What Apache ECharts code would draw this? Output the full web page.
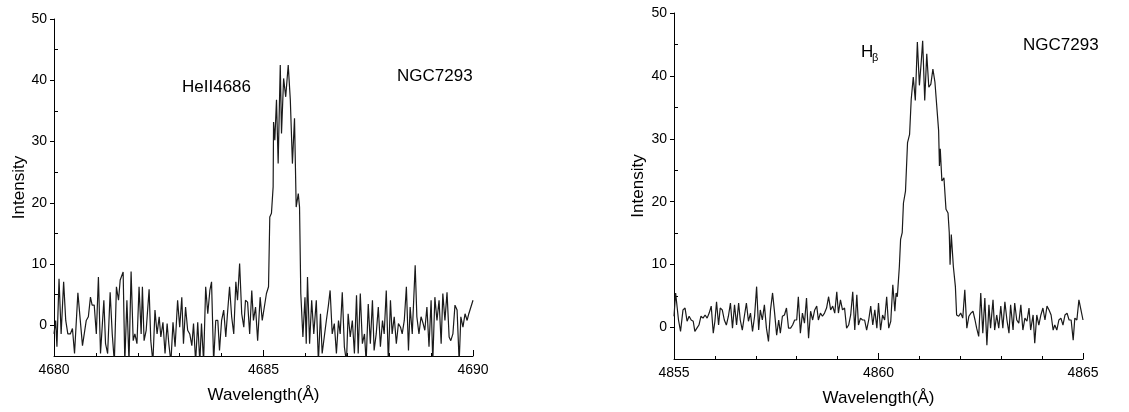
<!DOCTYPE html>
<html>
<head>
<meta charset="UTF-8">
<title></title>
<script src="https://cdn.jsdelivr.net/npm/echarts@6/dist/echarts.min.js"></script>
</head>
<body style="margin:0;background:#fff">
<div id="container" style="width:1129px;height:412px;"></div>
<script>
// HeII 4686 line, [wavelength, intensity]
var heII = [[4680.00,-1.4],[4680.04,0.8],[4680.07,-3.5],[4680.12,7.6],[4680.17,-1.4],[4680.23,7.1],[4680.28,0.8],[4680.33,-1.4],[4680.39,-1.4],[4680.44,-0.5],
[4680.49,-4.6],[4680.57,5.3],[4680.68,-3.3],[4680.77,0.8],[4680.82,1.4],[4680.87,4.6],[4680.91,3.3],[4680.96,3.3],[4681.01,-1.4],[4681.06,7.9],
[4681.11,-4.6],[4681.19,4.1],[4681.23,-3.0],[4681.28,-4.6],[4681.34,5.4],[4681.39,-1.4],[4681.44,-6],[4681.49,6.3],[4681.54,4.1],[4681.58,7.4],
[4681.65,8.7],[4681.69,-6],[4681.74,4.1],[4681.79,-6],[4681.84,8.8],[4681.89,-2.5],[4681.93,-1.4],[4681.98,-3.0],[4682.03,6.3],[4682.08,-1.4],
[4682.11,6.3],[4682.15,-2.5],[4682.20,-0.8],[4682.27,5.9],[4682.31,-2.5],[4682.36,-6],[4682.41,2.5],[4682.46,-1.4],[4682.51,1.4],[4682.55,-1.9],
[4682.60,0.5],[4682.65,-4.6],[4682.70,0.3],[4682.74,-3.0],[4682.79,-6],[4682.84,0.5],[4682.89,-3.5],[4682.95,4.1],[4683.00,-0.3],[4683.05,4.6],
[4683.09,-3.0],[4683.14,3.0],[4683.19,-0.8],[4683.24,-1.4],[4683.29,-3.3],[4683.33,0.3],[4683.38,-6],[4683.43,0.5],[4683.48,-6],[4683.52,0.3],
[4683.57,-6],[4683.62,6.3],[4683.67,1.9],[4683.72,5.7],[4683.76,7.1],[4683.81,-6],[4683.86,0.8],[4683.91,0.8],[4683.95,-4.1],[4684.00,0.8],
[4684.05,2.5],[4684.10,-1.9],[4684.14,1.9],[4684.19,6.3],[4684.24,1.4],[4684.29,-1.4],[4684.34,7.1],[4684.38,4.1],[4684.43,10.1],[4684.48,1.9],
[4684.53,-0.3],[4684.57,4.1],[4684.62,3.8],[4684.67,-1.4],[4684.72,5.7],[4684.76,0.8],[4684.81,3.0],[4684.86,-2.5],[4684.92,4.6],[4684.97,0.8],
[4685.02,3.0],[4685.07,5.2],[4685.12,6.3],[4685.15,17.7],[4685.19,18.3],[4685.23,22.6],[4685.24,33.2],[4685.27,30.2],[4685.31,36.8],[4685.35,26.4],
[4685.40,42.5],[4685.43,31.3],[4685.48,40.3],[4685.53,37.3],[4685.59,42.5],[4685.64,36.8],[4685.69,26.4],[4685.74,33.8],[4685.78,19.3],[4685.83,21.5],
[4685.86,19.3],[4685.89,5.2],[4685.94,-1.9],[4685.99,4.6],[4686.02,-3.0],[4686.05,7.9],[4686.10,-3.0],[4686.15,4.1],[4686.20,-1.4],[4686.26,4.1],
[4686.31,-6],[4686.36,1.9],[4686.40,-4.6],[4686.45,-1.9],[4686.50,0.8],[4686.55,3.3],[4686.59,5.7],[4686.64,-1.4],[4686.69,0.3],[4686.74,-4.6],
[4686.79,0.8],[4686.83,-1.4],[4686.88,5.4],[4686.93,-3.5],[4686.98,-6],[4687.02,1.9],[4687.07,-1.9],[4687.12,0.8],[4687.17,-4.6],[4687.22,4.9],
[4687.26,-4.6],[4687.31,5.2],[4687.36,-3.0],[4687.41,-1.4],[4687.45,-6],[4687.50,3.5],[4687.55,-3.0],[4687.60,4.1],[4687.64,-4.1],[4687.69,-1.4],
[4687.74,3.0],[4687.79,-3.5],[4687.84,0.8],[4687.88,-1.4],[4687.93,5.7],[4687.98,-6],[4688.03,4.1],[4688.07,-1.4],[4688.12,1.4],[4688.17,-3.0],
[4688.22,0.3],[4688.27,-0.3],[4688.31,-1.4],[4688.36,0.8],[4688.41,6.3],[4688.46,-4.1],[4688.50,3.0],[4688.55,-1.4],[4688.62,9.8],[4688.66,1.4],
[4688.71,-1.4],[4688.76,1.4],[4688.81,0.3],[4688.85,-0.8],[4688.90,3.0],[4688.95,-3.5],[4689.00,4.1],[4689.04,-6],[4689.09,4.6],[4689.14,0.8],
[4689.19,4.1],[4689.24,-3.0],[4689.28,5.2],[4689.33,0.8],[4689.38,5.4],[4689.43,-1.9],[4689.47,-2.5],[4689.52,-1.4],[4689.57,3.3],[4689.62,2.5],
[4689.67,-6],[4689.71,1.4],[4689.76,-0.3],[4689.81,1.9],[4689.86,0.8],[4689.90,1.9],[4689.95,3.0],[4690.00,4.1]];

// H-beta line, [wavelength, intensity]
var hBeta = [[4855.00,1.8],[4855.04,5.5],[4855.07,5.2],[4855.11,1.2],[4855.16,-0.6],[4855.22,2.8],[4855.27,3.1],[4855.32,1.0],[4855.37,1.8],[4855.42,1.2],
[4855.47,1.0],[4855.51,-0.6],[4855.56,-0.1],[4855.61,0.4],[4855.66,1.8],[4855.71,1.5],[4855.76,2.0],[4855.81,1.5],[4855.86,2.3],[4855.91,3.4],
[4855.96,-0.9],[4856.00,1.0],[4856.04,4.1],[4856.09,0.4],[4856.13,3.1],[4856.18,2.8],[4856.23,1.2],[4856.28,0.4],[4856.33,1.8],[4856.38,3.9],
[4856.43,-0.1],[4856.48,3.6],[4856.53,0.4],[4856.58,3.9],[4856.62,1.2],[4856.67,-0.4],[4856.72,1.8],[4856.77,3.9],[4856.82,1.0],[4856.87,2.3],
[4856.92,-0.6],[4856.97,1.8],[4857.02,6.5],[4857.07,-0.4],[4857.11,2.8],[4857.16,1.2],[4857.21,3.6],[4857.26,-0.1],[4857.31,-2.2],[4857.36,2.8],
[4857.41,5.5],[4857.46,2.3],[4857.51,-1.2],[4857.56,1.2],[4857.60,-0.9],[4857.65,1.8],[4857.70,2.0],[4857.75,3.1],[4857.80,-0.1],[4857.85,-0.1],
[4857.90,0.4],[4857.95,1.2],[4858.00,1.2],[4858.04,4.9],[4858.09,-0.9],[4858.14,2.3],[4858.19,0.7],[4858.24,4.7],[4858.29,-1.7],[4858.34,2.6],
[4858.39,1.2],[4858.44,2.8],[4858.49,3.4],[4858.53,1.2],[4858.58,2.3],[4858.63,1.8],[4858.68,2.3],[4858.73,3.1],[4858.78,4.9],[4858.83,2.8],
[4858.88,3.4],[4858.93,2.3],[4858.98,5.7],[4859.02,2.3],[4859.07,4.4],[4859.12,2.8],[4859.17,3.1],[4859.22,-0.1],[4859.27,0.4],[4859.32,2.0],
[4859.37,5.7],[4859.42,-0.4],[4859.47,5.2],[4859.51,0.4],[4859.56,1.5],[4859.61,1.2],[4859.66,1.2],[4859.71,-0.4],[4859.76,1.2],[4859.81,3.4],
[4859.86,0.4],[4859.91,2.8],[4859.96,-0.1],[4860.00,3.9],[4860.05,-0.4],[4860.10,2.0],[4860.15,1.2],[4860.20,4.9],[4860.25,-0.1],[4860.30,1.0],
[4860.35,6.8],[4860.40,2.6],[4860.43,5.5],[4860.46,4.9],[4860.51,9.7],[4860.54,14.0],[4860.58,15.1],[4860.61,19.8],[4860.66,21.7],[4860.71,29.4],
[4860.76,30.7],[4860.80,36.3],[4860.85,39.8],[4860.90,36.1],[4860.95,45.4],[4861.00,38.5],[4861.05,42.7],[4861.08,45.6],[4861.13,36.1],[4861.18,43.5],
[4861.23,38.2],[4861.28,38.7],[4861.33,41.1],[4861.38,39.0],[4861.42,38.7],[4861.47,31.3],[4861.49,25.7],[4861.51,28.4],[4861.55,23.3],[4861.60,23.8],
[4861.65,18.8],[4861.70,18.2],[4861.73,15.1],[4861.75,10.0],[4861.78,14.8],[4861.83,9.7],[4861.88,6.5],[4861.91,2.0],[4861.96,1.8],[4862.01,2.3],
[4862.06,1.5],[4862.11,6.0],[4862.16,-0.1],[4862.21,1.8],[4862.26,2.3],[4862.31,2.6],[4862.36,1.2],[4862.40,-0.1],[4862.45,-1.4],[4862.50,5.5],
[4862.55,-0.9],[4862.60,4.7],[4862.65,-2.8],[4862.70,3.6],[4862.74,-0.1],[4862.80,4.4],[4862.84,-0.4],[4862.89,2.0],[4862.94,-0.1],[4862.99,3.4],
[4863.04,-0.1],[4863.09,4.1],[4863.14,1.2],[4863.19,-0.9],[4863.23,3.6],[4863.29,-0.4],[4863.33,3.9],[4863.38,1.2],[4863.43,0.7],[4863.48,3.6],
[4863.53,-0.4],[4863.58,1.5],[4863.63,1.0],[4863.68,3.1],[4863.72,-0.4],[4863.78,2.0],[4863.82,-2.5],[4863.87,2.0],[4863.92,0.4],[4863.97,2.0],
[4864.02,3.1],[4864.07,1.2],[4864.12,3.4],[4864.17,2.8],[4864.22,2.0],[4864.27,-0.4],[4864.31,0.4],[4864.36,-0.4],[4864.41,1.2],[4864.46,1.5],
[4864.51,0.4],[4864.56,2.0],[4864.61,2.3],[4864.66,1.2],[4864.71,1.2],[4864.76,-2.0],[4864.80,1.5],[4864.85,1.2],[4864.90,4.4],[4864.95,2.8],
[4865.00,1.2]];

var yTicks = [0, 10, 20, 30, 40, 50];
var yMinorTicks = [5, 15, 25, 35, 45];

var font = "'Liberation Sans', Arial, sans-serif";
var dom = document.getElementById('container');
var myChart = echarts.init(dom);

function xAxisFor(grid, min, max) {
    return {
        type: 'value', gridIndex: grid, min: min, max: max, interval: 5,
        name: 'Wavelength(Å)', nameLocation: 'middle', nameGap: 31,
        nameTextStyle: {fontFamily: font, fontSize: 17, color: '#000'},
        axisLine: {onZero: false, lineStyle: {color: '#000', width: 1}},
        axisTick: {inside: true, length: 6, lineStyle: {color: '#000'}},
        minorTick: {show: true, splitNumber: 5, length: 3, lineStyle: {color: '#000'}},
        axisLabel: {fontFamily: font, fontSize: 14, color: '#000', margin: 7,
            formatter: function (v) { return String(v); }},
        splitLine: {show: false}
    };
}
function yAxisFor(grid, gap) {
    return {
        type: 'value', gridIndex: grid, position: 'left', min: -5, max: 50, interval: 10,
        name: 'Intensity', nameLocation: 'middle', nameGap: gap,
        nameTextStyle: {fontFamily: font, fontSize: 17, color: '#000'},
        axisLine: {show: true, onZero: false, lineStyle: {color: '#000', width: 1}},
        axisTick: {show: true, length: 4, customValues: yTicks, lineStyle: {color: '#000'}},
        axisLabel: {fontFamily: font, fontSize: 14, color: '#000', margin: 7, customValues: yTicks},
        splitLine: {show: false}
    };
}
// second axis only for the small inward ticks at 5, 15, ... 45
function yMinorFor(grid) {
    return {
        type: 'value', gridIndex: grid, position: 'left', min: -5, max: 50,
        axisLine: {show: false, onZero: false},
        axisTick: {show: true, inside: true, length: 4, customValues: yMinorTicks, lineStyle: {color: '#000'}},
        axisLabel: {show: false},
        splitLine: {show: false}
    };
}

option = {
    animation: false,
    grid: [
        {left: 54, top: 19, width: 419, height: 337},
        {left: 674, top: 13, width: 409, height: 346}
    ],
    xAxis: [xAxisFor(0, 4680, 4690), xAxisFor(1, 4855, 4865)],
    yAxis: [yAxisFor(0, 25), yMinorFor(0), yAxisFor(1, 27), yMinorFor(1)],
    series: [
        {type: 'line', xAxisIndex: 0, yAxisIndex: 0, data: heII, showSymbol: false, clip: true,
         lineStyle: {color: '#1a1a1a', width: 1.2}},
        {type: 'line', xAxisIndex: 1, yAxisIndex: 2, data: hBeta, showSymbol: false, clip: true,
         lineStyle: {color: '#1a1a1a', width: 1.2}}
    ],
    graphic: [
        {type: 'text', x: 182, y: 87, style: {text: 'HeII4686', font: '17px ' + font, fill: '#000', verticalAlign: 'middle'}},
        {type: 'text', x: 397, y: 76, style: {text: 'NGC7293', font: '17px ' + font, fill: '#000', verticalAlign: 'middle'}},
        {type: 'text', x: 861, y: 52, style: {text: 'H', font: '17px ' + font, fill: '#000', verticalAlign: 'middle'}},
        {type: 'text', x: 872, y: 58, style: {text: 'β', font: '11px ' + font, fill: '#000', verticalAlign: 'middle'}},
        {type: 'text', x: 1023, y: 45, style: {text: 'NGC7293', font: '17px ' + font, fill: '#000', verticalAlign: 'middle'}}
    ]
};
myChart.setOption(option);
</script>
</body>
</html>
